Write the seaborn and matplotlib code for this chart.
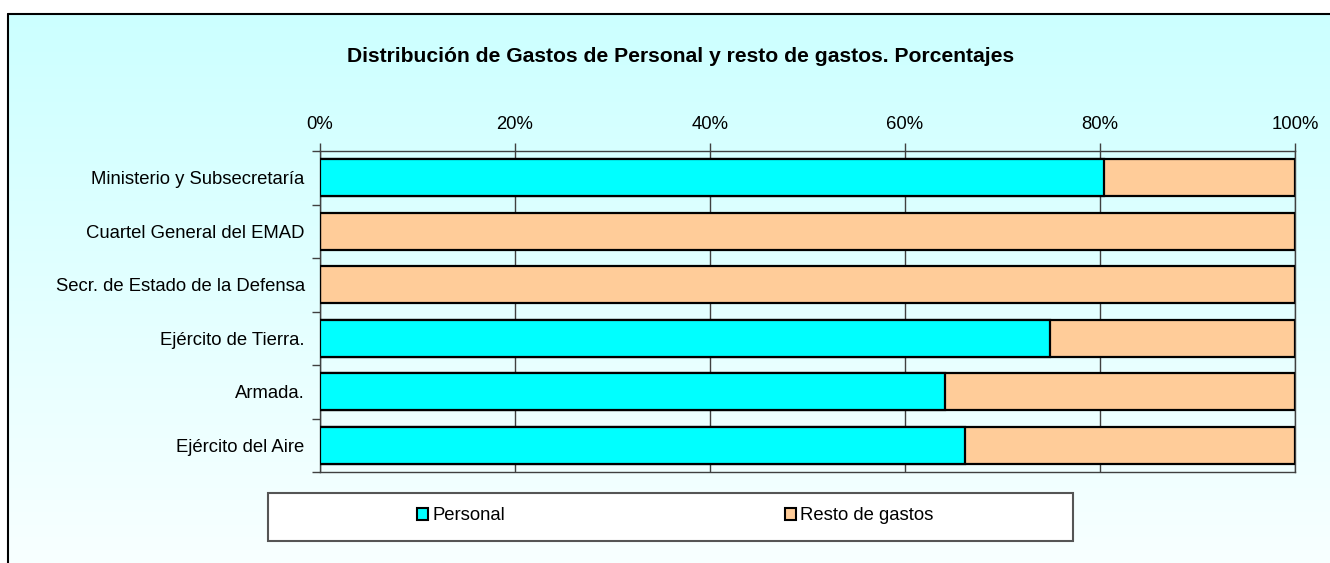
import numpy as np
import pandas as pd
import matplotlib
matplotlib.use("Agg")
import matplotlib.pyplot as plt
import seaborn as sns
from matplotlib.patches import Patch, Rectangle
from matplotlib.ticker import FixedLocator


categorias = [
    "Ministerio y Subsecretaría",
    "Cuartel General del EMAD",
    "Secr. de Estado de la Defensa",
    "Ejército de Tierra.",
    "Armada.",
    "Ejército del Aire",
]
personal = [80.4, 0.0, 0.0, 74.9, 64.1, 66.2]
resto = [19.6, 100.0, 100.0, 25.1, 35.9, 33.8]
xticks = [0, 20, 40, 60, 80, 100]
xlabels = ["0%", "20%", "40%", "60%", "80%", "100%"]

titulo = "Distribución de Gastos de Personal y resto de gastos. Porcentajes"

C_PERSONAL = "#00FFFF"
C_RESTO = "#FFCC99"


def main():

    sns.set_style("white")
    plt.rcParams["font.family"] = ["Liberation Sans", "DejaVu Sans"]
    plt.rcParams["text.color"] = "black"
    plt.rcParams["xtick.color"] = "black"
    plt.rcParams["ytick.color"] = "black"

    df = pd.DataFrame({
        "categoria": categorias,
        "Personal": personal,
        "Resto": resto,
    })
    df["total"] = df["Personal"] + df["Resto"]

    W, H = 1330, 563
    fig = plt.figure(figsize=(W / 100, H / 100), dpi=100)

    # fondo degradado + marco
    bg = fig.add_axes([0, 0, 1, 1], zorder=-10)
    bg.set_xlim(0, W)
    bg.set_ylim(H, 0)
    bg.set_axis_off()
    grad = np.linspace(0, 1, 256).reshape(-1, 1)
    cmap = matplotlib.colors.LinearSegmentedColormap.from_list(
        "fondo", ["#CCFFFF", "#F8FFFF"])
    bg.imshow(grad, cmap=cmap, aspect="auto", extent=(8, W, H, 14))
    bg.plot([8, W], [14, 14], color="black", lw=1.5)
    bg.plot([8, 8], [14, H], color="black", lw=1.5)

    # caja de la leyenda
    bg.add_patch(Rectangle((268, 493), 805, 48, facecolor="white",
                           edgecolor="#555555", lw=1.5))

    ax = fig.add_axes([320 / W, (H - 472) / H, 975 / W, 321 / H])
    ax.patch.set_alpha(0)

    sns.barplot(data=df, x="total", y="categoria", color=C_RESTO,
                edgecolor="black", linewidth=1.6, width=0.7, ax=ax,
                saturation=1, zorder=3)
    sns.barplot(data=df, x="Personal", y="categoria", color=C_PERSONAL,
                edgecolor="black", linewidth=1.6, width=0.7, ax=ax,
                saturation=1, zorder=4)

    ax.set_xlim(0, 100)
    ax.set_ylim(5.5, -0.5)
    ax.set_xlabel("")
    ax.set_ylabel("")

    ax.xaxis.tick_top()
    ax.set_xticks(xticks)
    ax.set_xticklabels(xlabels, fontsize=13.3)
    ax.tick_params(axis="x", direction="out", length=6, width=1,
                   color="#404040", pad=7)
    ax.xaxis.grid(True, color="#404040", lw=1)
    ax.set_axisbelow(True)

    ax.yaxis.set_major_locator(FixedLocator(np.arange(-0.5, 6, 1)))
    ax.yaxis.set_minor_locator(FixedLocator(np.arange(0, 6)))
    ax.set_yticklabels([], minor=False)
    ax.set_yticklabels(categorias, minor=True, fontsize=13.3)
    ax.tick_params(axis="y", which="major", direction="out", length=6,
                   width=1, color="#404040", left=True)
    ax.tick_params(axis="y", which="minor", length=0, pad=11)

    for s in ax.spines.values():
        s.set_visible(True)
        s.set_color("#404040")
        s.set_linewidth(1)

    fig.text(681 / W, 1 - 56 / H, titulo, ha="center", va="center",
             fontsize=15.2, fontweight="bold")

    handles = [
        Patch(facecolor=C_PERSONAL, edgecolor="black", lw=1.5, label="Personal"),
        Patch(facecolor=C_RESTO, edgecolor="black", lw=1.5, label="Resto de gastos"),
    ]
    fig.legend(handles=handles, loc="center", ncol=2, frameon=False,
               bbox_to_anchor=(675.5 / W, 1 - 516 / H), fontsize=13.3,
               handlelength=0.6, handleheight=0.6, handletextpad=0.25,
               columnspacing=15.1)

    fig.savefig("out.png", dpi=100)
    plt.close(fig)


if __name__ == "__main__":
    main()
